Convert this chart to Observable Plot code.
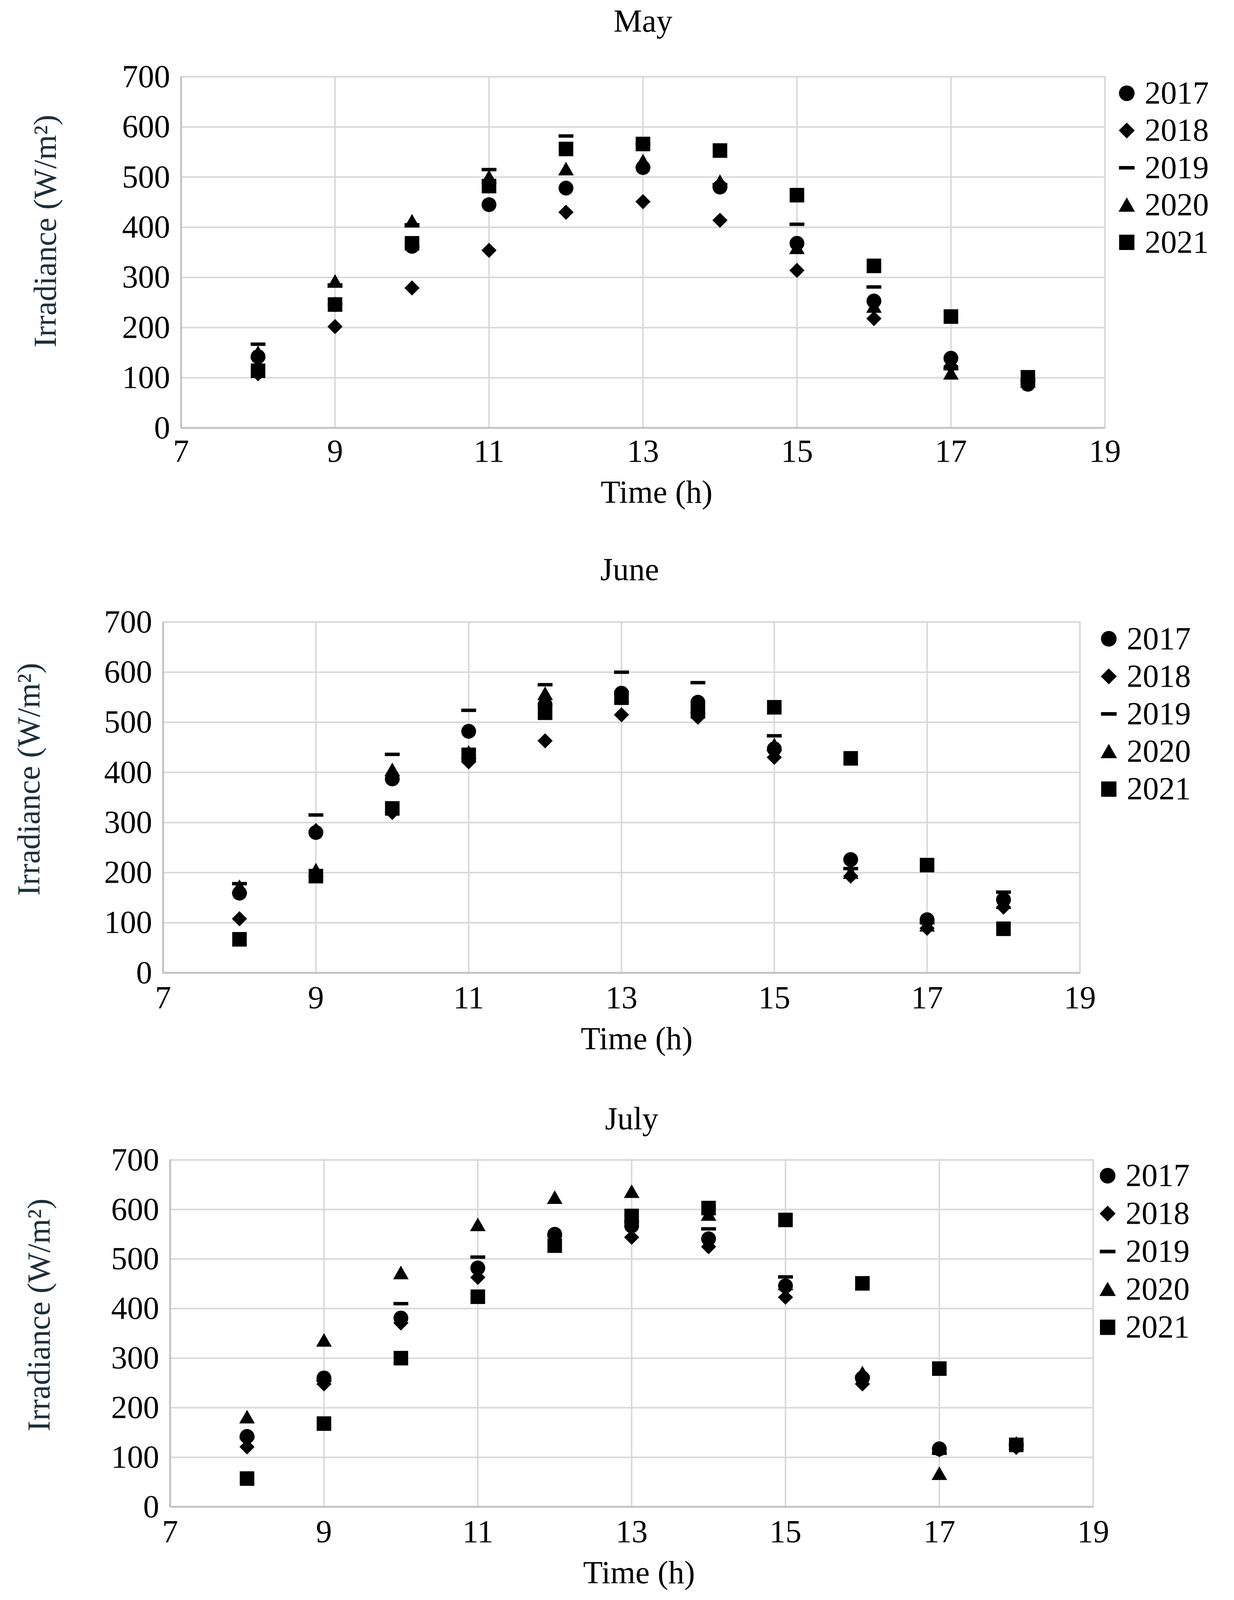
<!DOCTYPE html>
<html>
<head>
<meta charset="utf-8">
<script src="https://cdn.jsdelivr.net/npm/d3@7"></script>
<script src="https://cdn.jsdelivr.net/npm/@observablehq/plot@0.6"></script>
<style>
html, body { margin: 0; padding: 0; background: #fff; overflow: hidden; }
#chart { position: relative; width: 3159px; background: #fff; overflow: hidden; }
.panel { position: absolute; left: 0; }
</style>
</head>
<body>
<div id="chart"></div>
<script>
// ---------- data ----------
const hours = [8, 9, 10, 11, 12, 13, 14, 15, 16, 17, 18];
const years = ["2017", "2018", "2019", "2020", "2021"];
const months = ["May", "June", "July"];
const xTicks = [7, 9, 11, 13, 15, 17, 19];
const yTicks = [0, 100, 200, 300, 400, 500, 600, 700];

const may2017 = [142, 246, 362, 445, 478, 519, 480, 368, 253, 139, 87];
const may2018 = [108, 202, 279, 354, 430, 451, 414, 314, 218, 123, 92];
const may2019 = [167, 285, 405, 515, 582, 565, 485, 406, 281, 118, 95];
const may2020 = [150, 292, 412, 500, 516, 532, 491, 359, 242, 109, 93];
const may2021 = [114, 246, 368, 482, 556, 566, 553, 464, 323, 222, 101];

const jun2017 = [159, 280, 387, 482, 535, 558, 540, 447, 226, 106, 146];
const jun2018 = [108, 284, 320, 421, 463, 515, 510, 430, 193, 89, 131];
const jun2019 = [178, 315, 436, 524, 575, 600, 579, 473, 208, 100, 161];
const jun2020 = [172, 205, 405, 440, 557, 552, 530, 455, 200, 95, 140];
const jun2021 = [67, 193, 328, 435, 519, 549, 522, 530, 428, 215, 88];

const jul2017 = [142, 260, 381, 482, 550, 567, 541, 446, 260, 117, 124];
const jul2018 = [121, 248, 371, 463, 545, 544, 525, 423, 248, 115, 120];
const jul2019 = [140, 255, 410, 504, 548, 575, 561, 464, 262, 108, 126];
const jul2020 = [181, 336, 472, 569, 624, 636, 590, 450, 270, 67, 128];
const jul2021 = [57, 168, 300, 424, 527, 587, 603, 579, 451, 279, 125];

const monthSeries = [
  [may2017, may2018, may2019, may2020, may2021],
  [jun2017, jun2018, jun2019, jun2020, jun2021],
  [jul2017, jul2018, jul2019, jul2020, jul2021]
];

// ---------- symbols ----------
const symCircle = { draw(c, s) { const r = Math.sqrt(s / Math.PI); c.moveTo(r, 0); c.arc(0, 0, r, 0, 2 * Math.PI); c.closePath(); } };
const symDiamond = { draw(c, s) { const r = Math.sqrt(s / Math.PI); c.moveTo(0, -1.02 * r); c.lineTo(1.02 * r, 0); c.lineTo(0, 1.02 * r); c.lineTo(-1.02 * r, 0); c.closePath(); } };
const symDash = { draw(c, s) { const r = Math.sqrt(s / Math.PI); c.rect(-1.0 * r, -0.23 * r, 2.0 * r, 0.46 * r); } };
const symTriangle = { draw(c, s) { const r = Math.sqrt(s / Math.PI); c.moveTo(0, -0.98 * r); c.lineTo(1.05 * r, 0.85 * r); c.lineTo(-1.05 * r, 0.85 * r); c.closePath(); } };
const symSquare = { draw(c, s) { const r = Math.sqrt(s / Math.PI); c.rect(-0.98 * r, -0.98 * r, 1.96 * r, 1.96 * r); } };
const symbols = [symCircle, symDiamond, symDash, symTriangle, symSquare];

// ---------- layout (reference pixel coordinates, 3159 x 5194) ----------
const W = 3159;
const REF_H = 5194;
const viewH = (window.innerHeight && window.innerHeight > 0) ? window.innerHeight : REF_H;
const k = Math.min(1, viewH / REF_H);   // fit the whole figure into the visible window
const FONT = "Liberation Serif, Times New Roman, serif";
const FS = Math.round(93 * (0.45 + 0.55 * k));
const layouts = [
  { top: 0, bottom: 1700, ml: 463, mr: 331, pt: 249, pb: 1389,
    title: [0, -186], ylab: [-347, -69], xlab: [35, 184], tickPad: 75,
    leg: { x: 2884, tx: 2930, y0: 302, step: 121 } },
  { top: 1700, bottom: 3440, ml: 417, mr: 395, pt: 2019, pb: 3157,
    title: [21, -169], ylab: [-343, -59], xlab: [39, 193], tickPad: 80,
    leg: { x: 2838, tx: 2884, y0: 2073, step: 122 } },
  { top: 3440, bottom: 5194, ml: 435, mr: 361, pt: 3765, pb: 4891,
    title: [0, -133], ylab: [-335, -60], xlab: [19, 188], tickPad: 80,
    leg: { x: 2835, tx: 2881, y0: 3816, step: 123 } }
];

const chart = document.getElementById("chart");
chart.style.height = Math.round(REF_H * k) + "px";

months.forEach((month, mi) => {
  const L = layouts[mi];
  const series = monthSeries[mi];
  const top = Math.round(L.top * k);
  const height = Math.round(L.bottom * k) - top;
  const mt = Math.round(L.pt * k) - top;
  const mb = Math.round(L.bottom * k) - Math.round(L.pb * k);
  const tickCenter = Math.round(L.tickPad * k);
  const xlabDy = Math.max(L.xlab[1] * k, tickCenter + FS * 1.3);
  const titleDy = Math.max(L.title[1] * k, FS * 0.66 - mt);
  const marks = [
    Plot.gridY(yTicks, { stroke: "#d9d9d9", strokeOpacity: 1, strokeWidth: 4 }),
    Plot.gridX(xTicks, { stroke: "#d9d9d9", strokeOpacity: 1, strokeWidth: 4 }),
    Plot.frame({ stroke: "#d9d9d9", strokeWidth: 4 }),
    Plot.ruleX([7], { stroke: "#c4c4c4", strokeWidth: 5 }),
    Plot.ruleY([0], { stroke: "#c4c4c4", strokeWidth: 5 }),
    Plot.axisX({ ticks: xTicks, tickSize: 0, tickPadding: tickCenter - Math.round(FS * 0.38), tickFormat: d => String(d), fontSize: FS, fill: "#000", label: null }),
    Plot.axisY({ ticks: yTicks, tickSize: 0, tickPadding: 28, tickFormat: d => String(d), fontSize: FS, fill: "#000", label: null }),
    Plot.text([month], { text: d => d, frameAnchor: "top", dx: L.title[0], dy: titleDy, fontSize: FS, fill: "#000", lineAnchor: "middle" }),
    Plot.text(["Time (h)"], { text: d => d, frameAnchor: "bottom", dx: L.xlab[0], dy: xlabDy, fontSize: FS, fill: "#000", lineAnchor: "middle" }),
    Plot.text(["Irradiance (W/m²)"], { text: d => d, frameAnchor: "left", rotate: -90, dx: L.ylab[0], dy: L.ylab[1] * k, fontSize: FS, fill: "#1b2f3b", lineAnchor: "middle", textAnchor: "middle" })
  ];
  years.forEach((yr, yi) => {
    const rows = hours.map((h, i) => ({ hour: h, value: series[yi][i], year: yr }));
    marks.push(Plot.dot(rows, { x: "hour", y: "value", symbol: symbols[yi], r: 19, fill: "#000", stroke: "none" }));
    const ly = (L.leg.y0 + yi * L.leg.step) * k - top - mt;
    marks.push(Plot.dot([yr], { frameAnchor: "top-left", dx: L.leg.x - L.ml, dy: ly, symbol: symbols[yi], r: 20, fill: "#000", stroke: "none" }));
    marks.push(Plot.text([yr], { text: d => d, frameAnchor: "top-left", dx: L.leg.tx - L.ml, dy: ly, textAnchor: "start", lineAnchor: "middle", fontSize: FS, fill: "#000" }));
  });

  const svg = Plot.plot({
    width: W,
    height: height,
    marginLeft: L.ml,
    marginRight: L.mr,
    marginTop: mt,
    marginBottom: mb,
    x: { type: "linear", domain: [7, 19], axis: null },
    y: { type: "linear", domain: [0, 700], axis: null },
    style: { fontFamily: FONT, fontSize: FS + "px", background: "#fff", color: "#000", overflow: "visible" },
    marks
  });
  svg.classList.add("panel");
  svg.style.top = top + "px";
  chart.appendChild(svg);
});
</script>
</body>
</html>
